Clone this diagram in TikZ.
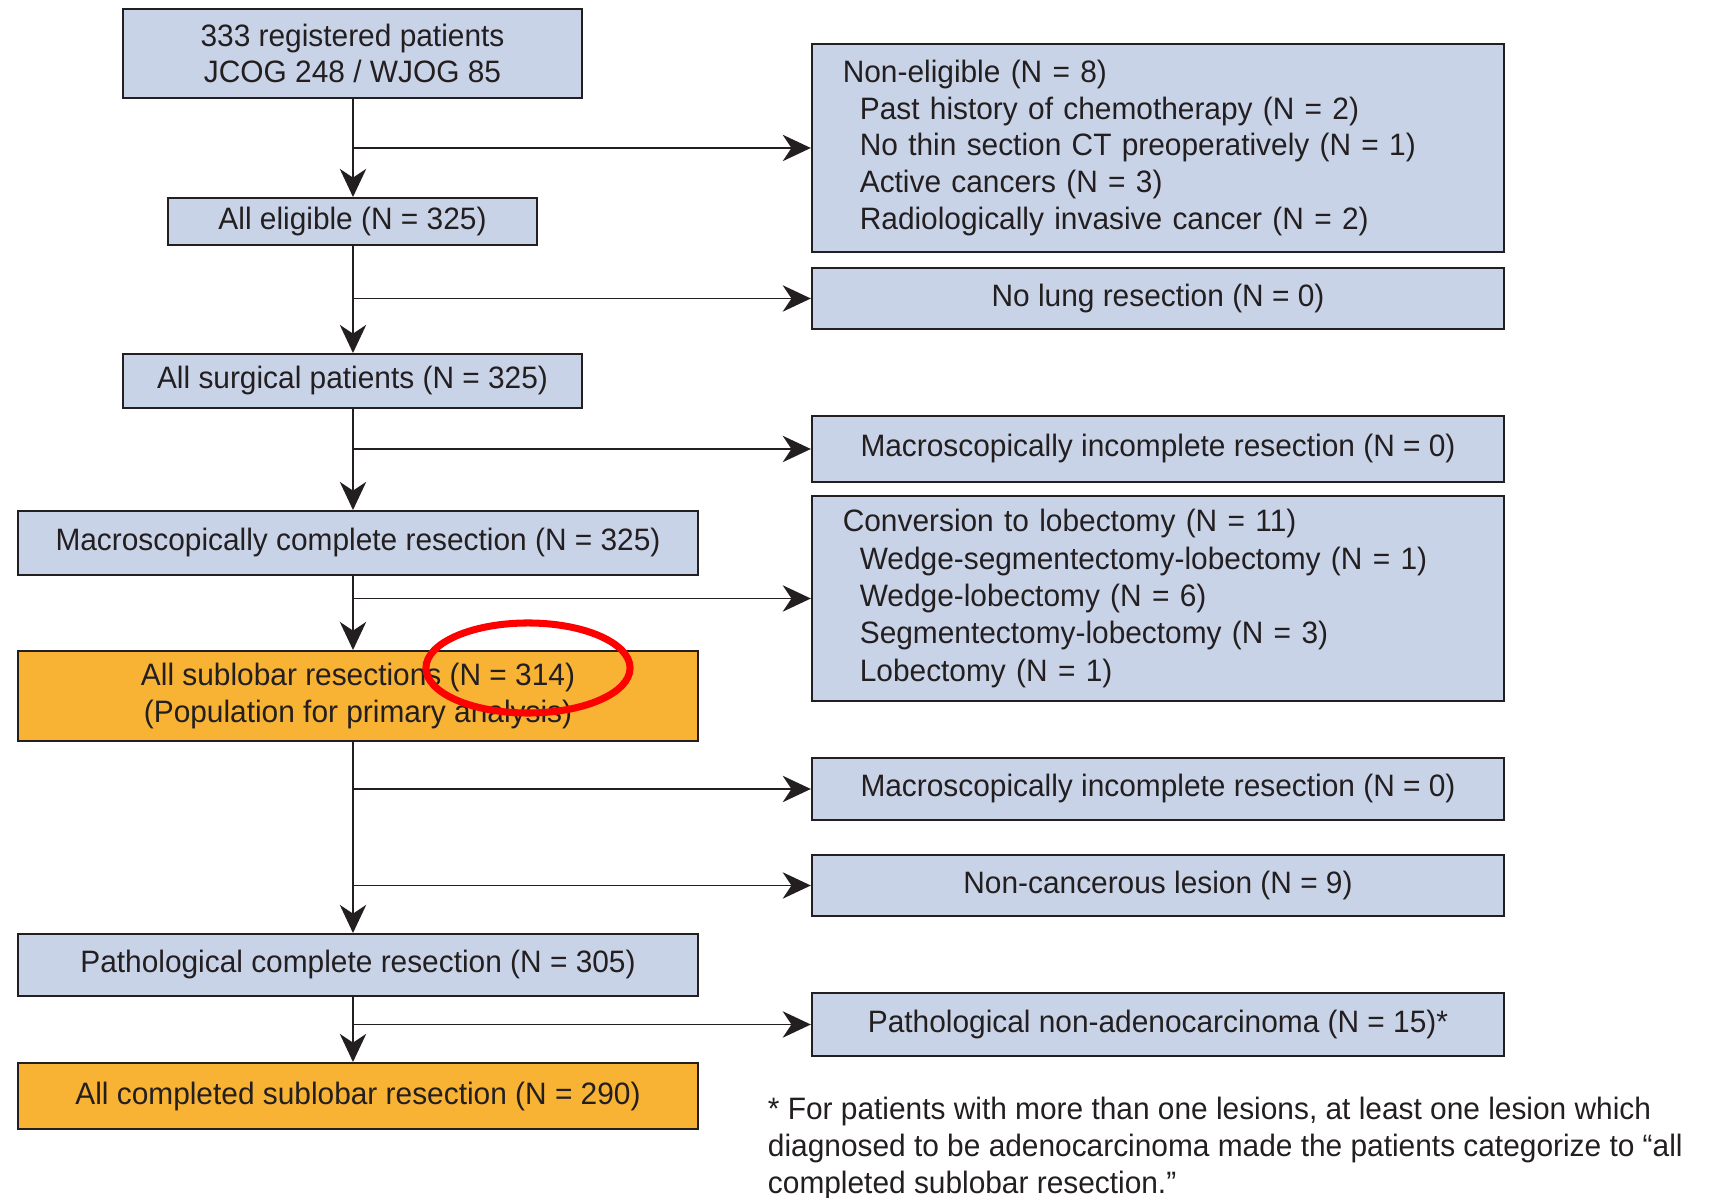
\documentclass[tikz,border=0pt]{standalone}
\usepackage{fontspec}
\setmainfont{Liberation Sans}[FakeStretch=0.965]
\usetikzlibrary{arrows.meta}

\definecolor{boxblue}{RGB}{201,211,231}
\definecolor{boxorange}{RGB}{248,178,52}
\definecolor{inkgray}{RGB}{35,31,32}
\newcommand{\ind}{\hspace*{0.17cm}}

\begin{document}
\begin{tikzpicture}
  [x=0.01cm,y=-0.01cm,
   every node/.style={draw=inkgray,line width=0.55pt,text=inkgray,inner sep=0pt,
                      font=\fontsize{8.8}{10.4}\selectfont},
   flow/.style={fill=boxblue,align=center},
   keep/.style={fill=boxorange,align=center},
   side/.style={fill=boxblue,align=center,minimum width=6.92cm},
   list/.style={fill=boxblue,align=left,text width=6.3cm,inner xsep=0.31cm},
   arr/.style={draw=inkgray,line width=0.55pt,-{Stealth[length=8pt,width=7.5pt,inset=2.5pt]}}]

  \useasboundingbox (0,0) rectangle (1718,1198);

  % main column
  \node[flow,minimum width=4.59cm,minimum height=0.89cm] (reg) at (352.5,53.5) {333 registered patients\\JCOG 248 / WJOG 85};
  \node[flow,minimum width=3.69cm,minimum height=0.47cm] (elig) at (352.5,221.5) {All eligible (N = 325)};
  \node[flow,minimum width=4.59cm,minimum height=0.54cm] (surg) at (352.5,381) {All surgical patients (N = 325)};
  \node[flow,minimum width=6.80cm,minimum height=0.64cm] (macro) at (358,543) {Macroscopically complete resection (N = 325)};
  \node[keep,minimum width=6.80cm,minimum height=0.90cm] (sub) at (358,696) {All sublobar resections (N = 314)\\(Population for primary analysis)};
  \node[flow,minimum width=6.80cm,minimum height=0.62cm] (path) at (358,965) {Pathological complete resection (N = 305)};
  \node[keep,minimum width=6.80cm,minimum height=0.66cm] (comp) at (358,1096) {All completed sublobar resection (N = 290)};

  % excluded
  \node[list,minimum height=2.08cm] (nonelig) at (1158,148) {Non-eligible (N = 8)\\
    \ind Past history of chemotherapy (N = 2)\\
    \ind No thin section CT preoperatively (N = 1)\\
    \ind Active cancers (N = 3)\\
    \ind Radiologically invasive cancer (N = 2)};
  \node[side,minimum height=0.61cm] (nolung) at (1158,298.5) {No lung resection (N = 0)};
  \node[side,minimum height=0.66cm] (incomp) at (1158,449) {Macroscopically incomplete resection (N = 0)};
  \node[list,minimum height=2.05cm,font=\fontsize{8.8}{10.6}\selectfont] (conv) at (1158,598.5) {Conversion to lobectomy (N = 11)\\
    \ind Wedge-segmentectomy-lobectomy (N = 1)\\
    \ind Wedge-lobectomy (N = 6)\\
    \ind Segmentectomy-lobectomy (N = 3)\\
    \ind Lobectomy (N = 1)};
  \node[side,minimum height=0.62cm] (incompb) at (1158,789) {Macroscopically incomplete resection (N = 0)};
  \node[side,minimum height=0.61cm] (noncanc) at (1158,885.5) {Non-cancerous lesion (N = 9)};
  \node[side,minimum height=0.63cm] (nonadeno) at (1158,1024.5) {Pathological non-adenocarcinoma (N = 15)*};

  \node[draw=none,anchor=north west,align=left,font=\fontsize{8.8}{10.6}\selectfont] (note) at (767,1096)
    {* For patients with more than one lesions, at least one lesion which\\
     diagnosed to be adenocarcinoma made the patients categorize to “all\\
     completed sublobar resection.”};

  \coordinate (spine) at (353,0);

  \foreach \from/\to in {reg/elig,elig/surg,surg/macro,macro/sub,sub/path,path/comp}
    \draw[arr] (\from.south -| spine) -- (\to.north -| spine);

  \foreach \to in {nonelig,nolung,incomp,conv,incompb,noncanc,nonadeno}
    \draw[arr] (spine |- \to) -- (\to.west);

  % highlight
  \draw[red,line width=2pt] (528,668) ellipse [x radius=1.02cm,y radius=0.45cm];

\end{tikzpicture}
\end{document}
